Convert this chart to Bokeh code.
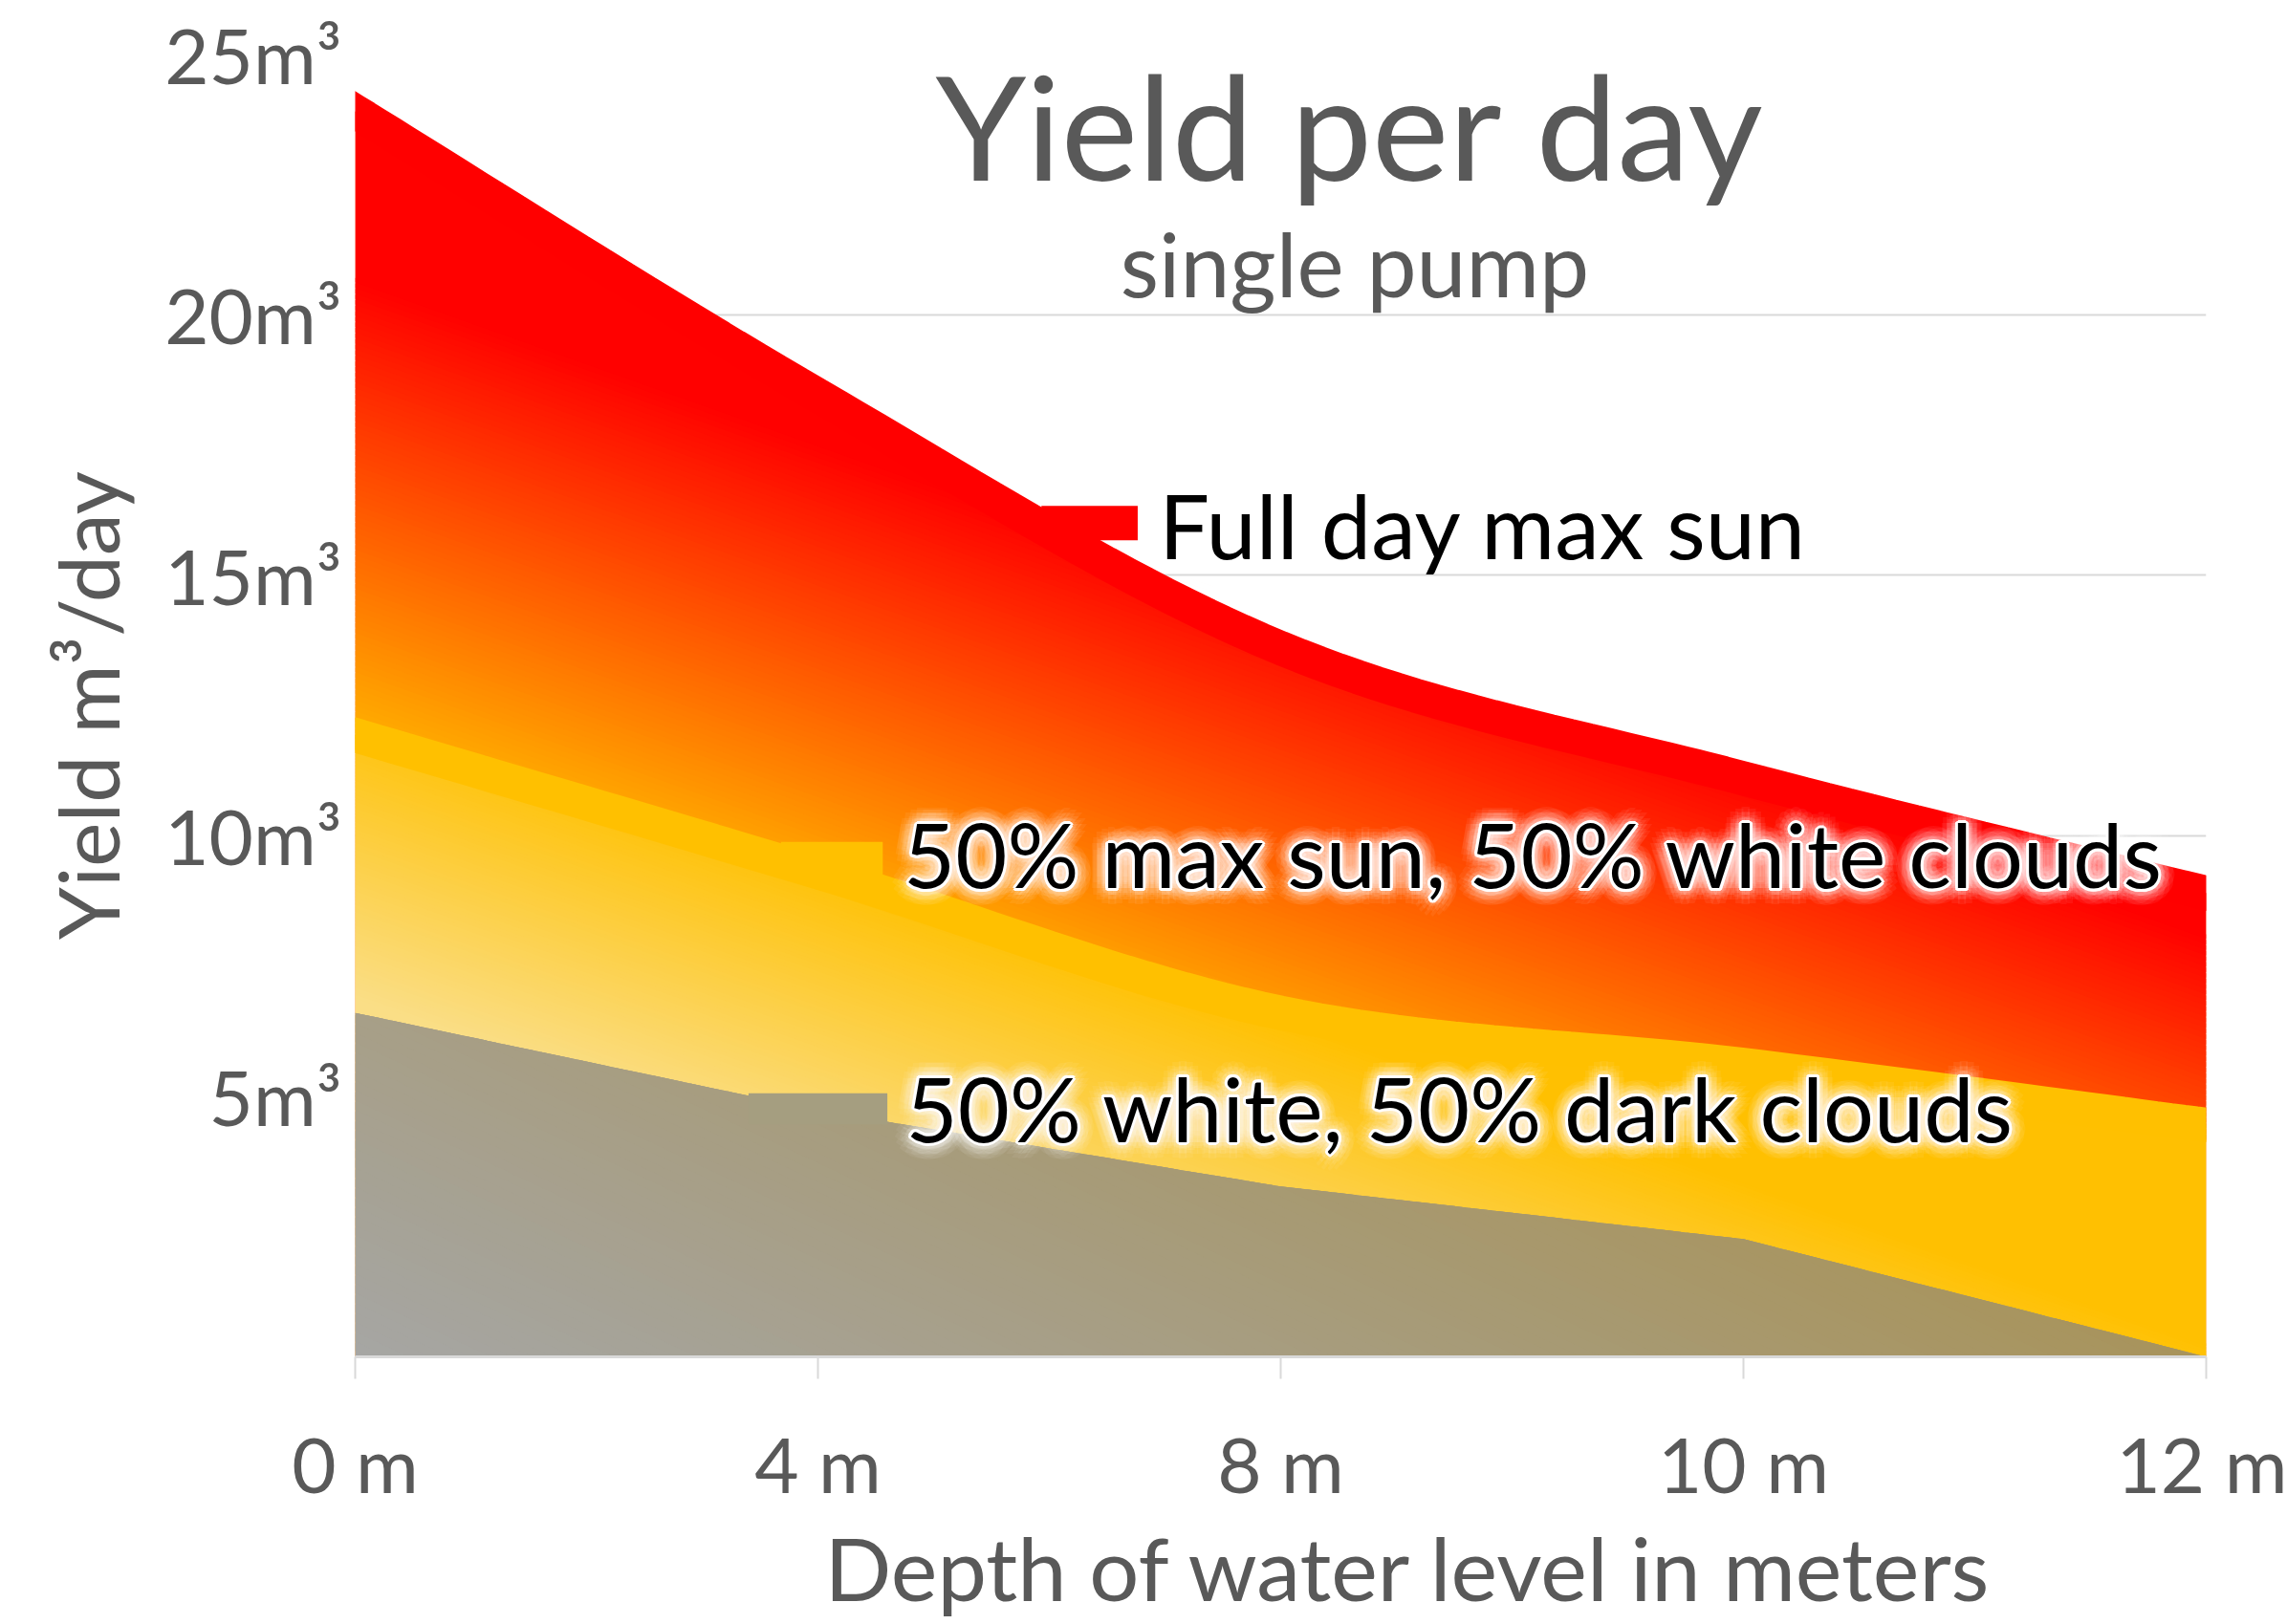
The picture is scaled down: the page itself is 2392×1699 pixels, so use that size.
import numpy as np
from bokeh.plotting import figure
from bokeh.models import Range1d, FixedTicker, Label, ColumnDataSource, Title
from bokeh.core.properties import value
from bokeh.embed import file_html
from bokeh.resources import INLINE

# ---------------- data ----------------
depths = ["0 m", "4 m", "8 m", "10 m", "12 m"]
full_sun = [23.9, 18.45, 13.6, 11.1, 8.9]         # Full day max sun
half_sun = [11.93, 9.3, 6.6, 5.6, 4.45]           # 50% max sun, 50% white clouds
clouds = [6.6, 4.73, 3.27, 2.26, 0.0]             # 50% white, 50% dark clouds
y_ticks = [5, 10, 15, 20, 25]
y_tick_labels = ["5m³", "10m³", "15m³", "20m³", "25m³"]
series_names = ["Full day max sun", "50% max sun, 50% white clouds",
                "50% white, 50% dark clouds"]

FONT = "Lato"
GREY_TXT = "#595959"
GRID = "#D9D9D9"

idx = np.arange(len(depths), dtype=float)
Y_MAX = 25.0
X_MAX = float(len(depths) - 1)


def smooth(vals, n=24):
    """Excel-style smoothed line (Bezier through the points)."""
    P = [(float(i), float(v)) for i, v in enumerate(vals)]
    m = len(P)
    xs, ys = [], []
    for i in range(m - 1):
        p0 = P[i - 1] if i > 0 else P[i]
        p1, p2 = P[i], P[i + 1]
        p3 = P[i + 2] if i + 2 < m else P[i + 1]
        c1 = (p1[0] + (p2[0] - p0[0]) / 6, p1[1] + (p2[1] - p0[1]) / 6)
        c2 = (p2[0] - (p3[0] - p1[0]) / 6, p2[1] - (p3[1] - p1[1]) / 6)
        s = np.linspace(0, 1, n + 1)
        if i > 0:
            s = s[1:]
        a, b, c, d = (1 - s) ** 3, 3 * (1 - s) ** 2 * s, 3 * (1 - s) * s ** 2, s ** 3
        xs.extend(a * p1[0] + b * c1[0] + c * c2[0] + d * p2[0])
        ys.extend(a * p1[1] + b * c1[1] + c * c2[1] + d * p2[1])
    return np.array(xs), np.array(ys)


xs, red_y = smooth(full_sun)
_, yel_y = smooth(half_sun)
gray_y = np.interp(xs, idx, clouds)


def lerp_color(c0, c1, t):
    t = min(max(t, 0.0), 1.0)
    r, g, b = (int(round(c0[k] + (c1[k] - c0[k]) * t)) for k in range(3))
    return "#%02x%02x%02x" % (r, g, b)


# linear gradients: t = a*u + b*v + c  (u, v = position inside the frame, 0..1)
GRADS = {
    "red": ((255, 192, 0), (255, 0, 0), 1.31, 2.6, -1.16),
    "yellow": ((250, 222, 135), (255, 192, 0), 2.1, 4.2, -1.15),
    "gray": ((166, 166, 164), (168, 148, 92), 1.0, 1.5, 0.0),
}


def clip(poly, f, level, keep_ge):
    out = []
    n = len(poly)
    for i in range(n):
        P, Q = poly[i], poly[(i + 1) % n]
        fp, fq = f(P) - level, f(Q) - level
        if not keep_ge:
            fp, fq = -fp, -fq
        if fp >= 0:
            out.append(P)
        if (fp >= 0) != (fq >= 0):
            s = fp / (fp - fq)
            out.append((P[0] + s * (Q[0] - P[0]), P[1] + s * (Q[1] - P[1])))
    return out


def gradient_bands(lo, hi, key, nb=90):
    c0, c1, a, b, c = GRADS[key]
    tf = lambda P: a * P[0] / X_MAX + b * P[1] / Y_MAX + c
    poly = list(zip(xs, hi)) + list(zip(xs[::-1], lo[::-1]))
    edges = [-100.0] + list(np.linspace(0, 1, nb + 1)[1:-1]) + [100.0]
    eps = 0.4 / nb
    bx, by, bc = [], [], []
    for k in range(len(edges) - 1):
        t0, t1 = edges[k], edges[k + 1]
        piece = clip(poly, tf, t0 - eps, True)
        if len(piece) < 3:
            continue
        piece = clip(piece, tf, t1 + eps, False)
        if len(piece) < 3:
            continue
        tm = (max(t0, 0.0) + min(t1, 1.0)) / 2
        bx.append([q[0] for q in piece])
        by.append([q[1] for q in piece])
        bc.append(lerp_color(c0, c1, tm))
    return ColumnDataSource(dict(xs=bx, ys=by, c=bc))


# ---------------- figure ----------------
p = figure(width=2392, height=1699, x_range=Range1d(0, X_MAX), y_range=Range1d(0, Y_MAX),
           output_backend="svg", toolbar_location=None,
           min_border_left=371, min_border_right=85, min_border_top=56, min_border_bottom=280)
p.outline_line_color = None
p.background_fill_color = "white"
p.border_fill_color = "white"

p.xgrid.visible = False
p.ygrid.ticker = FixedTicker(ticks=y_ticks)
p.ygrid.grid_line_color = GRID
p.ygrid.grid_line_width = 2

xa = p.xaxis[0]
xa.ticker = FixedTicker(ticks=list(idx))
xa.major_label_overrides = {float(i): d for i, d in enumerate(depths)}
xa.major_label_overrides.update({int(i): d for i, d in enumerate(depths)})
xa.axis_line_color = GRID
xa.axis_line_width = 3
xa.major_tick_out = 23
xa.major_tick_in = 0
xa.major_tick_line_color = GRID
xa.major_tick_line_width = 2
xa.minor_tick_line_color = None
xa.major_label_text_font = FONT
xa.major_label_text_font_size = "80px"
xa.major_label_text_color = GREY_TXT
xa.major_label_standoff = 40

ya = p.yaxis[0]
ya.ticker = FixedTicker(ticks=y_ticks)
ya.major_label_overrides = {t: l for t, l in zip(y_ticks, y_tick_labels)}
ya.axis_line_color = None
ya.major_tick_line_color = None
ya.minor_tick_line_color = None
ya.major_label_text_font = FONT
ya.major_label_text_font_size = "80px"
ya.major_label_text_color = GREY_TXT
ya.major_label_standoff = 8
ya.axis_label = "Yield m³/day"
ya.axis_label_text_font = FONT
ya.axis_label_text_font_size = "88px"
ya.axis_label_text_font_style = "normal"
ya.axis_label_text_color = GREY_TXT
ya.axis_label_standoff = 25

# x-axis title (placed right of centre like in the original)
p.add_layout(Title(text="Depth of water level in meters", align="left", offset=491,
                   text_font=FONT, text_font_size="92px", text_font_style="normal",
                   text_color=GREY_TXT, standoff=0), "below")

# ---------------- areas ----------------
LINE_W = 36
# Full day max sun
p.varea(x=xs, y1=0, y2=red_y, fill_color="#ff4000")
p.patches("xs", "ys", source=gradient_bands(yel_y - 0.3, red_y, "red"),
          fill_color="c", line_color=None)
p.line(xs, red_y, line_color="#ff0000", line_width=LINE_W, line_cap="square")
# 50% max sun, 50% white clouds
p.varea(x=xs, y1=0, y2=yel_y, fill_color="#fdd040")
p.patches("xs", "ys", source=gradient_bands(gray_y - 0.1, yel_y, "yellow"),
          fill_color="c", line_color=None)
p.line(xs, yel_y, line_color="#ffc000", line_width=LINE_W, line_cap="square")
# 50% white, 50% dark clouds
p.varea(x=xs, y1=0, y2=gray_y, fill_color="#a69e82")
p.patches("xs", "ys", source=gradient_bands(np.zeros_like(gray_y), gray_y, "gray"),
          fill_color="c", line_color=None)

# ---------------- label keys ----------------
key_x = [1.587, 1.03, 1.0]
key_y = [16.0, 9.55, 4.76]
key_w = [0.208, 0.22, 0.30]
key_h = [0.66, 0.66, 0.6]
key_c = ["#ff0000", "#ffc000", "#a59e80"]
p.rect(x=key_x, y=key_y, width=key_w, height=key_h, fill_color=key_c, line_color=None)

# ---------------- series labels ----------------
lab_x = [1.737, 1.185, 1.19]
lab_y = [15.96, 9.65, 4.78]
LAB_SIZE = "93.5px"

# white glow behind the two lower labels
gx, gy, gt, gdx, gdy, ga = [], [], [], [], [], []
for k in (1, 2):
    for r, n, a in ((3, 12, 1.0), (7, 16, 0.10), (12, 16, 0.08), (17, 16, 0.06)):
        for ang in np.linspace(0, 2 * np.pi, n, endpoint=False):
            gx.append(lab_x[k]); gy.append(lab_y[k]); gt.append(series_names[k])
            gdx.append(r * np.cos(ang)); gdy.append(r * np.sin(ang)); ga.append(a)
glow = ColumnDataSource(dict(x=gx, y=gy, t=gt, dx=gdx, dy=gdy, a=ga))
p.text(x="x", y="y", text="t", x_offset="dx", y_offset="dy", source=glow,
       text_color="white", text_alpha="a", text_font=value(FONT),
       text_font_size=LAB_SIZE, text_align="left", text_baseline="alphabetic")

lab_src = ColumnDataSource(dict(x=lab_x, y=lab_y, t=series_names))
p.text(x="x", y="y", text="t", source=lab_src, text_color="black",
       text_font=value(FONT), text_font_size=LAB_SIZE,
       text_align="left", text_baseline="alphabetic")

# ---------------- chart title ----------------
p.add_layout(Label(x=2.151, y=23.66, text="Yield per day", text_font=FONT,
                   text_font_size="152px", text_color=GREY_TXT, text_align="center",
                   text_baseline="alphabetic"))
p.add_layout(Label(x=2.16, y=21.0, text="single pump", text_font=FONT,
                   text_font_size="93px", text_color=GREY_TXT, text_align="center",
                   text_baseline="alphabetic"))

open("out.html", "w").write(file_html(p, INLINE))
